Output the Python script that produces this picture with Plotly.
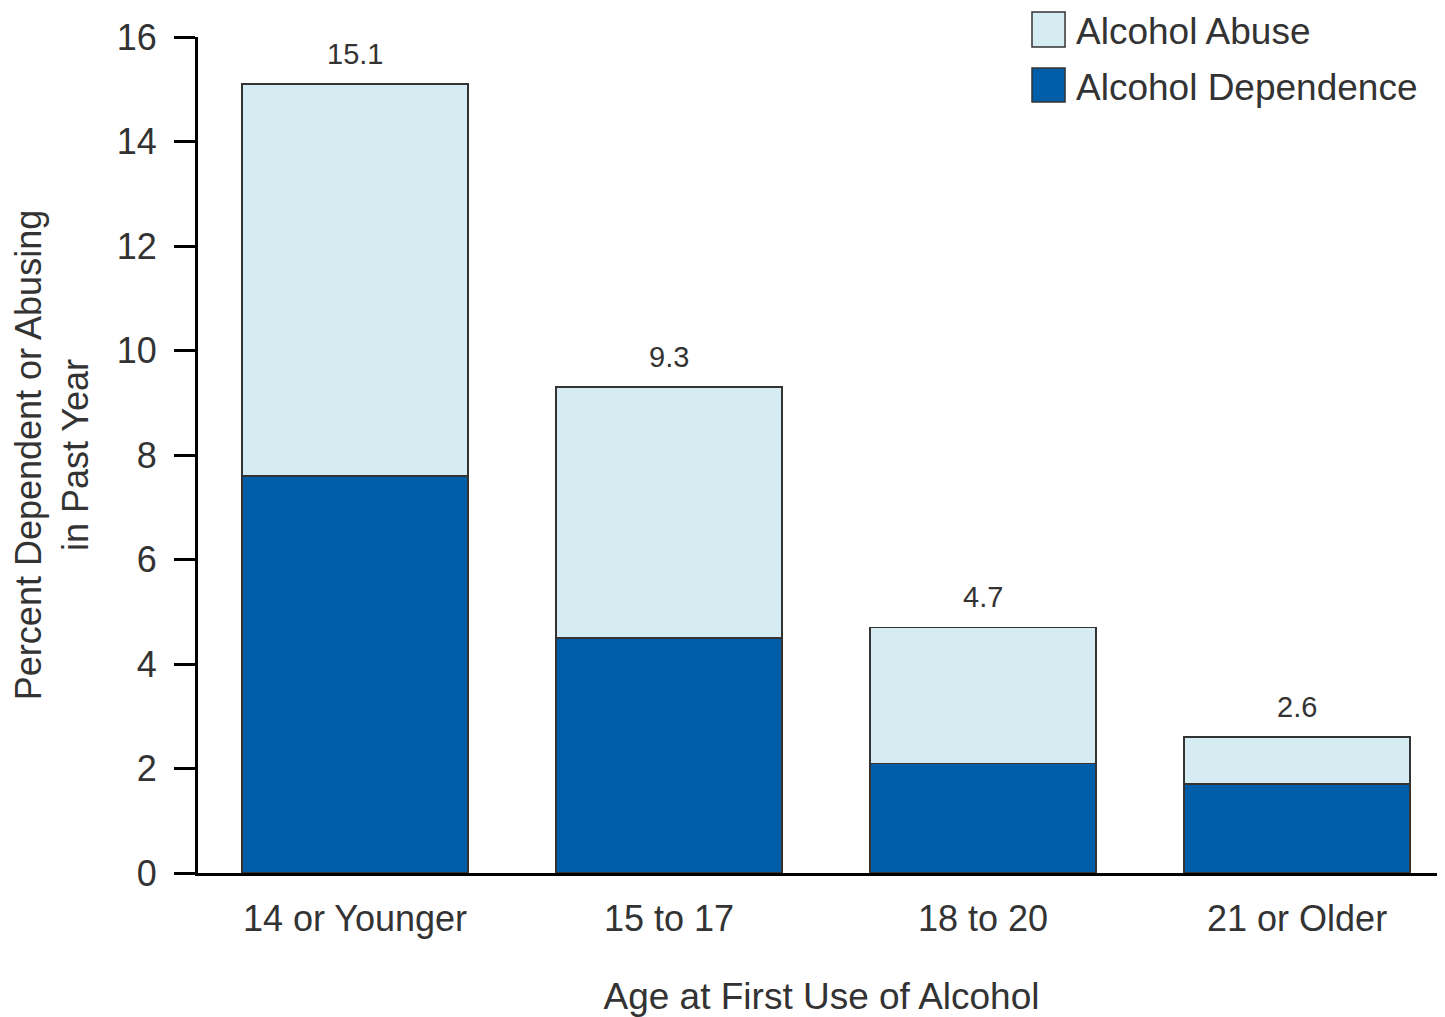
import plotly.graph_objects as go

categories = ["14 or Younger", "15 to 17", "18 to 20", "21 or Older"]
dependence = [7.6, 4.5, 2.1, 1.7]
abuse = [7.5, 4.8, 2.6, 0.9]
totals = [15.1, 9.3, 4.7, 2.6]
total_labels = ["15.1", "9.3", "4.7", "2.6"]
y_ticks = [0, 2, 4, 6, 8, 10, 12, 14, 16]
series_names = ["Alcohol Abuse", "Alcohol Dependence"]

FONT = "Liberation Sans, Arial, sans-serif"
TXT = "#333333"
C_DEP = "#005EA8"
C_ABU = "#D5ECF2"
EDGE = "#333333"

fig = go.Figure()
fig.add_trace(go.Bar(
    x=categories, y=dependence, name=series_names[1],
    marker=dict(color=C_DEP, line=dict(color=EDGE, width=1.5)),
    width=0.72, showlegend=False,
))
fig.add_trace(go.Bar(
    x=categories, y=abuse, name=series_names[0],
    marker=dict(color=C_ABU, line=dict(color=EDGE, width=1.5)),
    width=0.72, showlegend=False,
))

for c, t, lab in zip(categories, totals, total_labels):
    fig.add_annotation(x=c, y=t, text=lab, showarrow=False, yanchor="bottom",
                       yshift=12, font=dict(family=FONT, size=29, color=TXT))

# manual legend with large square swatches
leg_items = [(series_names[0], C_ABU, 1.0299, 0.9880), (series_names[1], C_DEP, 0.9629, 0.9222)]
for name, col, y1, y0 in leg_items:
    fig.add_shape(type="rect", xref="paper", yref="paper",
                  x0=0.6688, x1=0.6953, y0=y0, y1=y1,
                  fillcolor=col, line=dict(color=EDGE, width=1.5))
    fig.add_annotation(xref="paper", yref="paper", x=0.7025, y=(y0 + y1) / 2,
                       text=name, showarrow=False, xanchor="left", yanchor="middle",
                       yshift=-2, font=dict(family=FONT, size=37, color=TXT))

fig.update_layout(
    barmode="stack",
    width=1437, height=1009,
    margin=dict(l=190, r=0, t=29, b=144),
    plot_bgcolor="white", paper_bgcolor="white",
    font=dict(family=FONT, color=TXT, size=36),
    showlegend=False,
)
fig.update_xaxes(
    range=[-0.5, 3.471], showline=True, linecolor="black", linewidth=3,
    ticks="", showgrid=False, ticklabelstandoff=12,
    tickfont=dict(family=FONT, size=36, color=TXT),
    title=dict(text="Age at First Use of Alcohol", standoff=47,
               font=dict(family=FONT, size=37, color=TXT)),
)
fig.update_yaxes(
    range=[0, 16], tickvals=y_ticks, showline=True, linecolor="black", linewidth=3,
    ticks="outside", ticklen=21, tickwidth=3, tickcolor="black", showgrid=False,
    zeroline=False, ticklabelstandoff=10,
    tickfont=dict(family=FONT, size=36, color=TXT),
    title=dict(text="Percent Dependent or Abusing<br>in Past Year", standoff=30,
               font=dict(family=FONT, size=36, color=TXT)),
)

fig.write_html("out.html")
